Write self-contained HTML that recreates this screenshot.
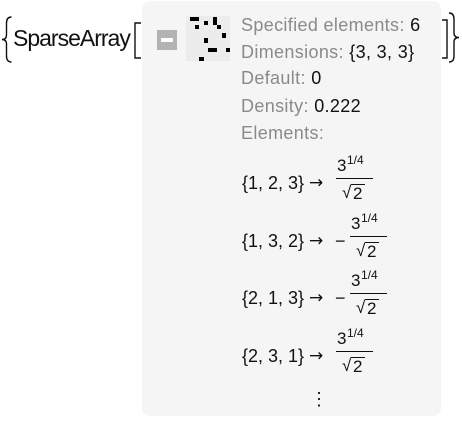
<!DOCTYPE html>
<html><head><style>
body{margin:0;width:462px;height:428px;background:#fff;position:relative;overflow:hidden;font-family:"Liberation Sans",sans-serif;}
.a{position:absolute;white-space:nowrap;line-height:1;}
.panel{position:absolute;left:142px;top:1px;width:299px;height:415px;background:#f5f5f5;border-radius:8px;}
.lab{color:#8a8a8a;font-size:18px;letter-spacing:0.35px;}
.lab b{font-weight:normal;color:#111;}
.e{font-size:18px;color:#111;}
.ar{font-family:"DejaVu Sans",sans-serif;font-size:17px;color:#111;}
.b{position:absolute;background:#000;}
.ent{position:absolute;left:0;width:462px;height:60px;}
.n3{position:absolute;font-size:17px;line-height:1;color:#111;}
.sup{position:absolute;font-size:12px;line-height:1;color:#111;}
.bar{position:absolute;height:1px;background:#111;}
</style></head><body>
<div class="panel"></div>
<svg class="a" style="left:0;top:0" width="462" height="428">
<g fill="none" stroke="#111" stroke-width="1.4">
<path d="M11.5,17 Q6.5,17 6.5,23 V35 Q6.5,39.5 2,39.5 Q6.5,39.5 6.5,44 V56 Q6.5,62 11.5,62"/>
<path d="M141,23 H135 V58 H141"/>
<path d="M442,20 H447 V58 H442"/>
<path d="M449,13 Q454,13 454,19 V33 Q454,37.5 459,37.5 Q454,37.5 454,42 V56 Q454,62 449,62"/>
</g></svg>
<div class="a" style="left:13px;top:27px;font-size:23px;color:#111;letter-spacing:-1px;">SparseArray</div>
<div class="a" style="left:157px;top:30px;width:20px;height:20px;background:#b3b3b3;"></div>
<div class="a" style="left:161px;top:38px;width:12px;height:4px;background:#fff;"></div>
<div class="a" style="left:186px;top:16px;width:44px;height:45px;background:#ececec;">
<div class="b" style="left:4px;top:1px;width:9px;height:4px"></div>
<div class="b" style="left:9px;top:9px;width:4px;height:4px"></div>
<div class="b" style="left:18px;top:5px;width:4px;height:4px"></div>
<div class="b" style="left:27px;top:1px;width:4px;height:8px"></div>
<div class="b" style="left:31px;top:9px;width:4px;height:4px"></div>
<div class="b" style="left:36px;top:17px;width:4px;height:5px"></div>
<div class="b" style="left:18px;top:22px;width:4px;height:5px"></div>
<div class="b" style="left:22px;top:32px;width:9px;height:4px"></div>
<div class="b" style="left:40px;top:32px;width:4px;height:4px"></div>
<div class="b" style="left:13px;top:41px;width:5px;height:4px"></div>
</div>
<div class="a lab" style="left:241px;top:16px;">Specified elements: <b>6</b></div>
<div class="a lab" style="left:241px;top:43px;">Dimensions: <b>{3, 3, 3}</b></div>
<div class="a lab" style="left:241px;top:69px;">Default: <b>0</b></div>
<div class="a lab" style="left:241px;top:97px;">Density: <b>0.222</b></div>
<div class="a lab" style="left:241px;top:124px;">Elements:</div>

<div class="ent" style="top:0">
<div class="a e" style="left:242px;top:174px;">{1, 2, 3}</div>
<div class="a ar" style="left:309px;top:175px;">→</div>
<div class="n3" style="left:337px;top:157px;">3</div>
<div class="sup" style="left:347px;top:154px;">1/4</div>
<div class="bar" style="left:336px;top:178px;width:37px;"></div>
<div class="n3" style="left:342px;top:184px;">√</div>
<div class="n3" style="left:353px;top:185px;">2</div>
<div class="bar" style="left:351px;top:184px;width:14px;"></div>
</div>
<div class="ent" style="top:58px">
<div class="a e" style="left:242px;top:174px;">{1, 3, 2}</div>
<div class="a ar" style="left:309px;top:175px;">→</div>
<div class="a e" style="left:335px;top:174px;">−</div>
<div class="n3" style="left:351px;top:157px;">3</div>
<div class="sup" style="left:361px;top:154px;">1/4</div>
<div class="bar" style="left:350px;top:178px;width:37px;"></div>
<div class="n3" style="left:356px;top:184px;">√</div>
<div class="n3" style="left:367px;top:185px;">2</div>
<div class="bar" style="left:365px;top:184px;width:14px;"></div>
</div>
<div class="ent" style="top:115px">
<div class="a e" style="left:242px;top:174px;">{2, 1, 3}</div>
<div class="a ar" style="left:309px;top:175px;">→</div>
<div class="a e" style="left:335px;top:174px;">−</div>
<div class="n3" style="left:351px;top:157px;">3</div>
<div class="sup" style="left:361px;top:154px;">1/4</div>
<div class="bar" style="left:350px;top:178px;width:37px;"></div>
<div class="n3" style="left:356px;top:184px;">√</div>
<div class="n3" style="left:367px;top:185px;">2</div>
<div class="bar" style="left:365px;top:184px;width:14px;"></div>
</div>
<div class="ent" style="top:173px">
<div class="a e" style="left:242px;top:174px;">{2, 3, 1}</div>
<div class="a ar" style="left:309px;top:175px;">→</div>
<div class="n3" style="left:337px;top:157px;">3</div>
<div class="sup" style="left:347px;top:154px;">1/4</div>
<div class="bar" style="left:336px;top:178px;width:37px;"></div>
<div class="n3" style="left:342px;top:184px;">√</div>
<div class="n3" style="left:353px;top:185px;">2</div>
<div class="bar" style="left:351px;top:184px;width:14px;"></div>
</div>

<div class="a e" style="left:310px;top:390px;">⋮</div>
</body></html>
